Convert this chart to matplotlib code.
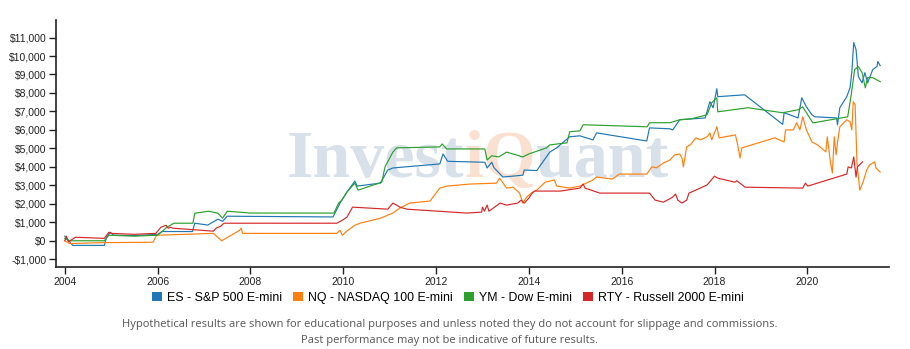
import numpy as np
import matplotlib.pyplot as plt
from matplotlib.patches import Patch
from matplotlib.ticker import FuncFormatter

# ES - S&P 500 E-mini
es_x = [2004.0, 2004.05, 2004.17, 2004.85, 2004.9, 2004.98, 2005.05, 2005.5, 2006.0, 2006.1,
        2006.75, 2006.8, 2007.08, 2007.3, 2007.4, 2007.5, 2008.0, 2009.78, 2009.93, 2010.08,
        2010.25, 2010.3, 2010.8, 2010.96, 2011.07, 2012.08, 2012.15, 2012.25, 2013.05, 2013.1,
        2013.2, 2013.25, 2013.44, 2013.87, 2013.9, 2014.17, 2014.45, 2014.6, 2014.8, 2014.88,
        2015.1, 2015.38, 2015.46, 2016.54, 2016.6, 2017.04, 2017.1, 2017.25, 2017.8, 2017.9,
        2017.97, 2018.05, 2018.07, 2018.65, 2019.47, 2019.5, 2019.8, 2019.88, 2019.98, 2020.1,
        2020.16, 2020.63, 2020.65, 2020.7, 2020.85, 2020.92, 2020.96, 2021.0, 2021.05, 2021.1,
        2021.18, 2021.24, 2021.3, 2021.41, 2021.5, 2021.52, 2021.57]
es_y = [250, 100, -250, -250, 190, 460, 300, 280, 350, 500,
        500, 950, 850, 1170, 1050, 1330, 1320, 1290, 2040, 2640,
        3230, 2960, 3120, 3830, 3940, 4160, 4700, 4300, 4250, 3940,
        4250, 3950, 3450, 3550, 3830, 3800, 4800, 5030, 5460, 5630,
        5680, 5460, 5840, 5400, 6110, 6060, 6000, 6550, 6650, 7530,
        7200, 8230, 7800, 7900, 6300, 6930, 6650, 7740, 7250, 6820,
        6710, 6650, 6280, 7200, 7800, 8280, 9160, 10730, 10350, 8880,
        8550, 9100, 8550, 9270, 9430, 9700, 9480]

# NQ - NASDAQ 100 E-mini
nq_x = [2004.0, 2004.1, 2004.85, 2005.9, 2005.98, 2007.2, 2007.38, 2007.77, 2007.8, 2007.83,
        2009.86, 2009.93, 2009.98, 2010.1, 2010.25, 2010.36, 2010.8, 2011.07, 2011.22, 2011.43,
        2011.87, 2012.08, 2012.23, 2012.73, 2013.3, 2013.37, 2013.52, 2013.66, 2013.8, 2013.87,
        2013.95, 2014.05, 2014.17, 2014.35, 2014.55, 2014.6, 2014.88, 2015.1, 2015.38, 2015.46,
        2015.8, 2015.95, 2016.54, 2016.65, 2016.75, 2016.9, 2017.04, 2017.14, 2017.25, 2017.3,
        2017.33, 2017.4, 2017.48, 2017.6, 2017.7, 2017.84, 2017.9, 2017.94, 2018.05, 2018.1,
        2018.45, 2018.5, 2018.55, 2018.59, 2019.3, 2019.5, 2019.53, 2019.7, 2019.77, 2019.84,
        2019.9, 2019.98, 2020.1, 2020.22, 2020.4, 2020.43, 2020.5, 2020.54, 2020.58, 2020.62,
        2020.65, 2020.7, 2020.85, 2020.92, 2020.96, 2020.99, 2021.03, 2021.07, 2021.13, 2021.2,
        2021.28, 2021.34, 2021.45, 2021.48, 2021.57]
nq_y = [0, -150, -100, -80, 300, 400, 0, 570, 680, 400,
        400, 570, 300, 570, 840, 950, 1220, 1500, 1770, 2040,
        2150, 2850, 2960, 3070, 3120, 3390, 2850, 2900, 2580, 2040,
        2360, 2580, 2740, 3170, 3290, 2960, 2850, 2960, 3290, 3450,
        3340, 3610, 3610, 4000, 3950, 4210, 4370, 4650, 4700, 4480,
        4000, 5080, 5190, 5570, 5460, 5630, 5840, 5460, 6170, 5570,
        5730, 5190, 4480, 5030, 5570, 5350, 6000, 6000, 6390, 6000,
        6710, 6000, 5350, 5190, 4810, 5630, 4210, 3670, 5630, 4650,
        5300, 6170, 6550, 6440, 6000, 7530, 7360, 4210, 2740, 3170,
        3830, 4100, 4270, 3940, 3720]

# YM - Dow E-mini
ym_x = [2004.0, 2004.1, 2004.85, 2004.95, 2005.5, 2006.0, 2006.2, 2006.35, 2006.76, 2006.8,
        2007.1, 2007.3, 2007.4, 2007.5, 2008.0, 2009.8, 2009.9, 2009.97, 2010.08, 2010.25,
        2010.32, 2010.83, 2010.9, 2011.07, 2011.15, 2012.08, 2012.13, 2012.23, 2013.05, 2013.1,
        2013.2, 2013.35, 2013.52, 2013.87, 2014.0, 2014.38, 2014.45, 2014.82, 2014.88, 2015.1,
        2015.17, 2016.55, 2016.6, 2017.04, 2017.25, 2017.5, 2017.84, 2017.94, 2018.05, 2018.07,
        2018.72, 2019.47, 2019.8, 2019.9, 2020.12, 2020.87, 2020.94, 2021.02, 2021.1, 2021.18,
        2021.25, 2021.3, 2021.41, 2021.57]
ym_y = [130, 0, 0, 300, 250, 300, 730, 950, 950, 1490,
        1600, 1490, 1220, 1600, 1500, 1500, 2040, 2200, 2640, 3120,
        2740, 3170, 4000, 4800, 5030, 5080, 5240, 4970, 4970, 4370,
        4600, 4540, 4800, 4540, 4700, 5030, 5190, 5300, 5900, 5950,
        6280, 6170, 6390, 6390, 6550, 6600, 6820, 7470, 7740, 6980,
        7200, 6930, 7090, 7250, 6380, 6710, 7800, 9270, 9430, 9100,
        8280, 8830, 8830, 8610]

# RTY - Russell 2000 E-mini
rty_x = [2004.0, 2004.03, 2004.08, 2004.23, 2004.85, 2004.9, 2004.95, 2005.0, 2005.5, 2005.96,
         2006.07, 2006.18, 2006.23, 2006.28, 2006.33, 2007.2, 2007.26, 2007.36, 2007.43, 2009.86,
         2009.98, 2010.08, 2010.2, 2010.96, 2011.07, 2011.15, 2011.22, 2011.37, 2012.66, 2012.98,
         2013.0, 2013.04, 2013.1, 2013.14, 2013.38, 2013.52, 2013.76, 2013.83, 2013.9, 2014.0,
         2014.07, 2014.12, 2014.68, 2015.1, 2015.17, 2015.21, 2015.53, 2016.6, 2016.72, 2016.9,
         2016.98, 2017.1, 2017.16, 2017.21, 2017.3, 2017.4, 2017.45, 2017.55, 2017.84, 2018.0,
         2018.07, 2018.44, 2018.48, 2018.66, 2019.9, 2019.96, 2020.01, 2020.85, 2020.88, 2020.95,
         2021.0, 2021.05, 2021.08, 2021.19]
rty_y = [0, 250, -50, 190, 130, 300, 460, 400, 350, 400,
         730, 840, 680, 730, 680, 520, 680, 790, 950, 950,
         1110, 1280, 1820, 1710, 2040, 1930, 1820, 1710, 1500, 1550,
         1820, 1600, 1930, 1600, 2040, 1930, 2040, 2200, 2040, 2310,
         2580, 2690, 2690, 2850, 3070, 2850, 2580, 2580, 2200, 2090,
         2200, 2360, 2530, 2200, 2040, 2200, 2580, 2690, 3020, 3500,
         3390, 3170, 3250, 2900, 2850, 3120, 2960, 3610, 4000, 3940,
         4540, 3450, 4000, 4270]

series = [
    ("ES - S&P 500 E-mini", es_x, es_y, "#1f77b4"),
    ("NQ - NASDAQ 100 E-mini", nq_x, nq_y, "#ff7f0e"),
    ("YM - Dow E-mini", ym_x, ym_y, "#2ca02c"),
    ("RTY - Russell 2000 E-mini", rty_x, rty_y, "#d62728"),
]

year_ticks = [2004, 2006, 2008, 2010, 2012, 2014, 2016, 2018, 2020]
dollar_ticks = list(range(-1000, 12000, 1000))

fig = plt.figure(figsize=(9.1, 3.49), dpi=100)
ax = fig.add_axes([56 / 910, 82 / 349, 833 / 910, 247 / 349])

for name, xs, ys, col in series:
    ax.plot(xs, ys, color=col, lw=0.85, zorder=3)

ax.set_xlim(2003.81, 2021.76)
ax.set_ylim(-1420, 11950)
ax.set_xticks(year_ticks)
ax.set_yticks(dollar_ticks)


def money(v, pos):
    s = "${:,.0f}".format(abs(v))
    return "-" + s if v < 0 else s


ax.yaxis.set_major_formatter(FuncFormatter(money))
ax.tick_params(axis="both", labelsize=7.5, colors="#222222", length=5, width=1, pad=2)
for lbl in ax.get_xticklabels() + ax.get_yticklabels():
    lbl.set_fontfamily("Liberation Sans")
for side in ("top", "right"):
    ax.spines[side].set_visible(False)
for side in ("left", "bottom"):
    ax.spines[side].set_color("#222222")
    ax.spines[side].set_linewidth(1.2)

# watermark
wm_kw = dict(fontsize=49, fontweight="bold", family="Liberation Serif", zorder=1)
t1 = ax.annotate("Invest", xy=(287 / 910, 172 / 349), xycoords="figure fraction",
                 va="baseline", ha="left", color="#d8e0ea", **wm_kw)
t2 = ax.annotate("iQ", xy=(1, 0), xycoords=t1, va="bottom", ha="left",
                 color="#f9e0d0", **wm_kw)
t3 = ax.annotate("uant", xy=(1, 0), xycoords=t2, va="bottom", ha="left",
                 color="#d8e0ea", **wm_kw)

handles = [Patch(facecolor=c, edgecolor="none", label=n) for n, _, _, c in series]
fig.legend(handles=handles, loc="center", bbox_to_anchor=(0.492, 51 / 349), ncol=4,
           frameon=False, handlelength=0.8, handleheight=0.8, handletextpad=0.4,
           columnspacing=0.9, prop={"family": "Liberation Sans", "size": 8.9})

fig.text(0.494, 25 / 349, "Hypothetical results are shown for educational purposes and unless "
         "noted they do not account for slippage and commissions.",
         ha="center", va="center", fontsize=8.0, color="#555555", family="Open Sans")
fig.text(0.494, 9 / 349, "Past performance may not be indicative of future results.",
         ha="center", va="center", fontsize=8.0, color="#555555", family="Open Sans")

fig.savefig("out.png", dpi=100)
